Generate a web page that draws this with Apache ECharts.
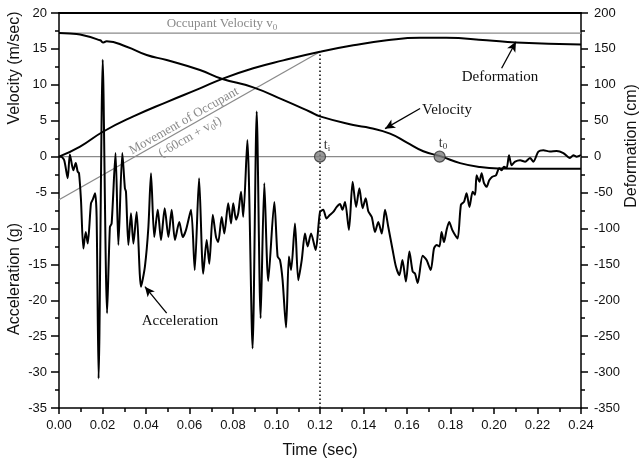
<!DOCTYPE html>
<html>
<head>
<meta charset="utf-8">
<script src="https://cdn.jsdelivr.net/npm/echarts@6/dist/echarts.min.js"></script>
<style>
  html, body { margin: 0; padding: 0; background: #fff; }
  #crash { width: 642px; height: 461px; }
</style>
</head>
<body>
<div id="crash"></div>
<script>
// acceleration (g)
var accTime = [0, 0.001, 0.0024, 0.004, 0.005, 0.0066, 0.0077, 0.0086, 0.0092, 0.0101,
  0.0112, 0.0123, 0.0132, 0.0147, 0.0155, 0.0166, 0.0173, 0.0182, 0.0201, 0.0221,
  0.0234, 0.0242, 0.026, 0.0273, 0.0291, 0.0303, 0.0308, 0.0319, 0.0331, 0.0342,
  0.0357, 0.0377, 0.0395, 0.0411, 0.0423, 0.0438, 0.0454, 0.0469, 0.0486, 0.0503,
  0.0518, 0.0533, 0.0553, 0.0569, 0.0584, 0.0607, 0.0624, 0.0644, 0.0663, 0.0679,
  0.0691, 0.0707, 0.0722, 0.0732, 0.0748, 0.076, 0.0778, 0.0791, 0.0801, 0.0814,
  0.0824, 0.0837, 0.0847, 0.0866, 0.089, 0.0909, 0.0927, 0.0944, 0.0962, 0.099,
  0.1005, 0.1016, 0.1028, 0.1044, 0.1057, 0.1067, 0.1085, 0.11, 0.1116, 0.1131,
  0.1143, 0.1159, 0.118, 0.12, 0.1215, 0.123, 0.1246, 0.1261, 0.1277, 0.1292,
  0.1303, 0.1315, 0.1333, 0.135, 0.1366, 0.1381, 0.1396, 0.141, 0.1422, 0.1438,
  0.1453, 0.1468, 0.1484, 0.1499, 0.1514, 0.1534, 0.1549, 0.1565, 0.1579, 0.1595,
  0.1611, 0.1626, 0.1637, 0.1649, 0.1672, 0.169, 0.1709, 0.1724, 0.1736, 0.1749,
  0.1759, 0.177, 0.1782, 0.1794, 0.1808, 0.1821, 0.1833, 0.1848, 0.1862, 0.1874,
  0.1887, 0.1902, 0.1913, 0.192, 0.1933, 0.1943, 0.1954, 0.1966, 0.1978, 0.1992,
  0.2009, 0.2024, 0.2035, 0.2046, 0.2058, 0.2069, 0.2081, 0.2097, 0.212, 0.2143,
  0.2166, 0.2181, 0.2204, 0.2227, 0.2257, 0.2288, 0.2319, 0.2349, 0.2365, 0.238, 0.24];
var accG = [0, 0, -0.5, -3.0, 0.3, -1.9, -0.9, -2.1, -2.3, -6.0,
  -12.8, -10.5, -12.1, -6.5, -6.0, -5.1, -8.4, -30.9, 13.5, -21.8,
  -9.8, -9.3, 0.5, -12.3, 0.5, -4.4, -4.9, -12.3, -7.9, -12.1,
  -7.7, -18.1, -15.3, -9.8, -2.3, -11.2, -7.4, -11.6, -7.2, -11.2,
  -7.4, -11.6, -9.1, -11.2, -10.2, -7.4, -15.8, -3.0, -16.3, -11.6,
  -14.9, -8.1, -11.2, -11.9, -8.4, -10.7, -6.5, -9.3, -6.5, -8.8,
  -7.9, -4.9, -8.4, 2.3, -26.7, 6.3, -22.5, -3.7, -17.3, -6.3,
  -13.9, -14.4, -17.2, -23.8, -13.9, -15.8, -9.3, -17.2, -14.4, -10.7,
  -12.5, -10.7, -13.0, -7.7, -7.4, -8.6, -8.1, -7.7, -7.0, -6.6,
  -7.4, -6.3, -10.2, -3.5, -7.0, -4.4, -7.2, -5.8, -7.6, -8.4,
  -10.5, -9.1, -10.7, -7.4, -9.8, -13.0, -15.3, -16.5, -14.4, -17.4,
  -13.2, -16.0, -16.3, -17.6, -13.8, -14.4, -15.8, -12.8, -12.3, -12.5,
  -10.5, -11.9, -10.2, -9.1, -10.2, -10.9, -11.4, -6.7, -6.3, -5.1,
  -7.0, -4.9, -5.3, -2.6, -3.5, -2.3, -3.7, -4.2, -3.3, -2.8,
  -2.6, -1.6, -1.9, -1.4, -1.6, 0.2, -1.2, -0.7, -0.5, -0.7,
  -0.2, -0.7, 0.7, 0.9, 0.7, 0.8, 0.5, -0.2, 0.2, 0.0, 0.2];

// velocity (m/sec)
var velTime = [0, 0.005, 0.0097, 0.0189, 0.0204, 0.0219, 0.0311, 0.0403, 0.0495, 0.0648,
  0.0748, 0.0893, 0.1031, 0.1154, 0.12, 0.1353, 0.143, 0.1522, 0.16, 0.1675,
  0.176, 0.1844, 0.1936, 0.2035, 0.22, 0.24];
var velMs = [17.2, 17.15, 17.0, 16.2, 15.9, 16.05, 15.3, 14.15, 13.45, 12.06,
  10.85, 9.65, 7.9, 6.25, 5.6, 4.4, 4.0, 3.2, 1.95, 0.75,
  0.0, -0.9, -1.45, -1.65, -1.7, -1.7];

// deformation (cm)
var defTime = [0, 0.0097, 0.0204, 0.0342, 0.0495, 0.0648, 0.0748, 0.0893, 0.1031, 0.12,
  0.1353, 0.1507, 0.166, 0.178, 0.1966, 0.2101, 0.24];
var defCm = [0, 14, 35, 56, 76, 95, 108, 123, 134, 146,
  155, 162, 165.5, 165.5, 162, 159, 156];

// reference lines
var refTime = [0, 0.24];
var v0Line = [17.2, 17.2];
var zeroLine = [0, 0];
var moveTime = [0, 0.12];
var moveCm = [-60, 146];
var tiTime = [0.12, 0.12];
var tiVal = [-35, 14.6];
var markTime = [0.12, 0.175];
var markVal = [0, 0];

function zip(a, b) {
  return a.map(function (x, i) { return [x, b[i]]; });
}

var chart = echarts.init(document.getElementById("crash"));

var sans = "Liberation Sans";
var serif = "Liberation Serif";
var grey = "#8a8a8a";

var sub = { fontSize: 9, fontFamily: serif, padding: [7, 0, 0, 0] };

var option = {
  animation: false,
  grid: { left: 59, right: 61, top: 13, bottom: 53, containLabel: false, outerBoundsMode: "none" },
  xAxis: [
    {
      type: "value",
      min: 0,
      max: 0.24,
      interval: 0.02,
      name: "Time (sec)",
      nameLocation: "middle",
      nameGap: 35,
      nameTextStyle: { fontFamily: sans, fontSize: 16, color: "#111" },
      axisLine: { onZero: false, lineStyle: { color: "#000", width: 1.5 } },
      axisTick: { length: 6, lineStyle: { color: "#000", width: 1.5 } },
      minorTick: { show: true, splitNumber: 2, length: 4, lineStyle: { color: "#000", width: 1.5 } },
      axisLabel: {
        margin: 11,
        fontFamily: sans,
        fontSize: 13,
        color: "#111",
        hideOverlap: false,
        formatter: function (v) { return v.toFixed(2); },
      },
      splitLine: { show: false },
    },
    {
      type: "value",
      position: "top",
      min: 0,
      max: 0.24,
      axisLine: { onZero: false, lineStyle: { color: "#000", width: 2 } },
      axisTick: { show: false },
      axisLabel: { show: false },
      splitLine: { show: false },
    },
  ],
  yAxis: [
    {
      type: "value",
      min: -35,
      max: 20,
      interval: 5,
      axisLine: { show: true, onZero: false, lineStyle: { color: "#000", width: 1.5 } },
      axisTick: { show: true, length: 8, lineStyle: { color: "#000", width: 1.5 } },
      minorTick: { show: true, splitNumber: 2, length: 4, lineStyle: { color: "#000", width: 1.5 } },
      axisLabel: { margin: 12, fontFamily: sans, fontSize: 13, color: "#111", hideOverlap: false },
      splitLine: { show: false },
    },
    {
      type: "value",
      position: "right",
      min: -350,
      max: 200,
      interval: 50,
      axisLine: { show: true, onZero: false, lineStyle: { color: "#000", width: 1.5 } },
      axisTick: { show: true, length: 7, lineStyle: { color: "#000", width: 1.5 } },
      minorTick: { show: true, splitNumber: 2, length: 4, lineStyle: { color: "#000", width: 1.5 } },
      axisLabel: { margin: 13, fontFamily: sans, fontSize: 13, color: "#111", hideOverlap: false },
      splitLine: { show: false },
    },
  ],
  series: [
    {
      name: "v0",
      type: "line",
      data: zip(refTime, v0Line),
      symbol: "none",
      lineStyle: { color: grey, width: 1.2 },
      silent: true,
    },
    {
      name: "zero",
      type: "line",
      data: zip(refTime, zeroLine),
      symbol: "none",
      lineStyle: { color: grey, width: 1.2 },
      silent: true,
    },
    {
      name: "Movement of Occupant",
      type: "line",
      yAxisIndex: 1,
      data: zip(moveTime, moveCm),
      symbol: "none",
      lineStyle: { color: grey, width: 1.3 },
      silent: true,
    },
    {
      name: "ti",
      type: "line",
      data: zip(tiTime, tiVal),
      symbol: "none",
      lineStyle: { color: "#000", width: 1.5, type: [1.5, 2.5] },
      silent: true,
    },
    {
      name: "Acceleration",
      type: "line",
      data: zip(accTime, accG),
      symbol: "none",
      smooth: 0.25,
      lineStyle: { color: "#000", width: 2 },
      z: 3,
    },
    {
      name: "Deformation",
      type: "line",
      yAxisIndex: 1,
      data: zip(defTime, defCm),
      symbol: "none",
      smooth: true,
      lineStyle: { color: "#000", width: 2 },
    },
    {
      name: "Velocity",
      type: "line",
      data: zip(velTime, velMs),
      symbol: "none",
      smooth: true,
      lineStyle: { color: "#000", width: 2 },
      markLine: {
        silent: true,
        symbol: ["none", "arrow"],
        symbolSize: [7, 10],
        label: { show: false },
        lineStyle: { color: "#000", width: 1.3, type: "solid" },
        data: [
          [{ coord: [0.2035, 12.3] }, { coord: [0.2101, 16.0] }],
          [{ coord: [0.166, 6.7] }, { coord: [0.1499, 3.9] }],
          [{ coord: [0.0495, -21.8] }, { coord: [0.0395, -18.1] }],
        ],
      },
    },
    {
      name: "points",
      type: "scatter",
      data: zip(markTime, markVal),
      symbolSize: 11,
      itemStyle: { color: "#7f7f7f", borderColor: "#333", borderWidth: 1.2 },
      z: 5,
    },
  ],
  graphic: [
    {
      type: "text", x: 15, y: 68, rotation: Math.PI / 2,
      style: { text: "Velocity (m/sec)", font: "16px " + sans, fill: "#111", align: "center", verticalAlign: "middle" },
    },
    {
      type: "text", x: 15, y: 279, rotation: Math.PI / 2,
      style: { text: "Acceleration (g)", font: "16px " + sans, fill: "#111", align: "center", verticalAlign: "middle" },
    },
    {
      type: "text", x: 632, y: 146, rotation: Math.PI / 2,
      style: { text: "Deformation (cm)", font: "16px " + sans, fill: "#111", align: "center", verticalAlign: "middle" },
    },
    {
      type: "text", x: 222, y: 24,
      style: {
        text: "Occupant Velocity v{s|0}",
        font: "13px " + serif, fill: grey, align: "center", verticalAlign: "middle",
        rich: { s: sub },
      },
    },
    {
      type: "text", x: 184, y: 121, rotation: 0.517,
      style: { text: "Movement of Occupant", font: "13px " + serif, fill: grey, align: "center", verticalAlign: "middle" },
    },
    {
      type: "text", x: 190, y: 137, rotation: 0.517,
      style: {
        text: "(-60cm + v{s|0}t)",
        font: "13px " + serif, fill: grey, align: "center", verticalAlign: "middle",
        rich: { s: sub },
      },
    },
    {
      type: "text", x: 500, y: 77,
      style: { text: "Deformation", font: "15px " + serif, fill: "#111", align: "center", verticalAlign: "middle" },
    },
    {
      type: "text", x: 447, y: 110,
      style: { text: "Velocity", font: "15px " + serif, fill: "#111", align: "center", verticalAlign: "middle" },
    },
    {
      type: "text", x: 180, y: 321,
      style: { text: "Acceleration", font: "15px " + serif, fill: "#111", align: "center", verticalAlign: "middle" },
    },
    {
      type: "text", x: 327, y: 145,
      style: { text: "t{s|i}", font: "14px " + serif, fill: "#333", align: "center", verticalAlign: "middle", rich: { s: sub } },
    },
    {
      type: "text", x: 443, y: 143,
      style: { text: "t{s|0}", font: "14px " + serif, fill: "#333", align: "center", verticalAlign: "middle", rich: { s: sub } },
    },
  ],
};

chart.setOption(option);
</script>
</body>
</html>
